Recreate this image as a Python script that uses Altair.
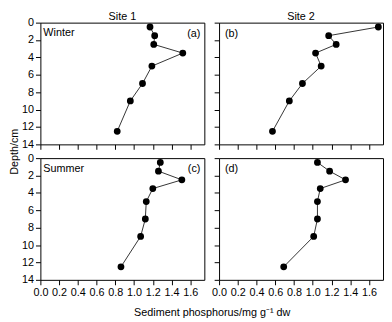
import altair as alt
import pandas as pd

# ---- data ----
depth = [0.5, 1.5, 2.5, 3.5, 5, 7, 9, 12.5]
winter_site1 = [1.17, 1.22, 1.21, 1.52, 1.19, 1.09, 0.96, 0.82]
winter_site2 = [1.70, 1.17, 1.25, 1.03, 1.09, 0.89, 0.75, 0.57]
summer_site1 = [1.28, 1.26, 1.51, 1.20, 1.13, 1.12, 1.07, 0.86]
summer_site2 = [1.05, 1.18, 1.35, 1.08, 1.05, 1.05, 1.01, 0.69]

x_ticks = [0.0, 0.2, 0.4, 0.6, 0.8, 1.0, 1.2, 1.4, 1.6]
y_ticks = [0, 2, 4, 6, 8, 10, 12, 14]
sites = ["Site 1", "Site 2"]
seasons = ["Winter", "Summer"]
panel_labels = ["(a)", "(b)", "(c)", "(d)"]
x_title = "Sediment phosphorus/mg g\u207b\u00b9 dw"
y_title = "Depth/cm"

W = 167
H = 124
HGAP = 15
VGAP = 14
FONT = "Liberation Sans"


def txt(s, x, y, align):
    return alt.Chart(pd.DataFrame({"t": [s]})).mark_text(
        align=align, baseline="alphabetic", fontSize=11, font=FONT,
        color="black"
    ).encode(x=alt.value(x), y=alt.value(y), text="t:N")


def panel(values, plabel, season=None, col_title=None, x_labels=False,
          y_labels=False, show_ytitle=False, show_xtitle=False):
    df = pd.DataFrame({"depth": depth, "p": values})

    xaxis_kw = dict(values=x_ticks, format=".1f", labels=x_labels, grid=False,
                    tickSize=5, labelPadding=2, domain=False,
                    labelOverlap=False, labelFlush=False)
    if show_xtitle:
        xaxis_kw.update(title=x_title, titleX=W + HGAP / 2, titleY=27,
                        titleAlign="center", titleBaseline="top")
    else:
        xaxis_kw.update(title=None)

    yaxis_kw = dict(values=y_ticks, labels=y_labels, grid=False, tickSize=5,
                    labelPadding=2, domain=False, labelOverlap=False,
                    labelFlush=False)
    if show_ytitle:
        yaxis_kw.update(title=y_title, titleX=-21, titleY=H + VGAP / 2,
                        titleAngle=270, titleAlign="center",
                        titleBaseline="bottom")
    else:
        yaxis_kw.update(title=None)

    base = alt.Chart(df).encode(
        x=alt.X("p:Q", scale=alt.Scale(domain=[0, 1.75], nice=False, zero=False),
                axis=alt.Axis(**xaxis_kw)),
        y=alt.Y("depth:Q", scale=alt.Scale(domain=[0, 14], reverse=True, nice=False),
                axis=alt.Axis(**yaxis_kw)),
        order=alt.Order("depth:Q"),
    )
    line = base.mark_line(color="black", strokeWidth=0.8)
    pts = base.mark_circle(color="black", opacity=1, size=48)

    layers = [line, pts]
    if season is not None:
        layers.append(txt(season, 3, 14, "left"))
        layers.append(txt(plabel, W - 4, 14.5, "right"))
    else:
        layers.append(txt(plabel, 6, 14.5, "left"))
    if col_title is not None:
        layers.append(txt(col_title, W / 2, -2.5, "center"))

    return alt.layer(*layers).properties(width=W, height=H)


a = panel(winter_site1, panel_labels[0], season=seasons[0], col_title=sites[0],
          y_labels=True, show_ytitle=True)
b = panel(winter_site2, panel_labels[1], col_title=sites[1])
c = panel(summer_site1, panel_labels[2], season=seasons[1], x_labels=True,
          y_labels=True, show_xtitle=True)
d = panel(summer_site2, panel_labels[3], x_labels=True)

chart = alt.concat(
    a, b, c, d, columns=2,
    spacing=alt.RowColnumber(row=VGAP, column=HGAP), bounds="flush"
).properties(
    padding=0
).configure(font=FONT).configure_view(
    stroke="black", strokeWidth=1
).configure_axis(
    labelFont=FONT, labelFontSize=11, labelColor="black",
    titleFont=FONT, titleFontSize=11, titleColor="black", titleFontWeight="normal",
    tickColor="black", tickWidth=1, domainColor="black",
)

chart.save("out.html", embed_options={"renderer": "svg", "actions": False})
